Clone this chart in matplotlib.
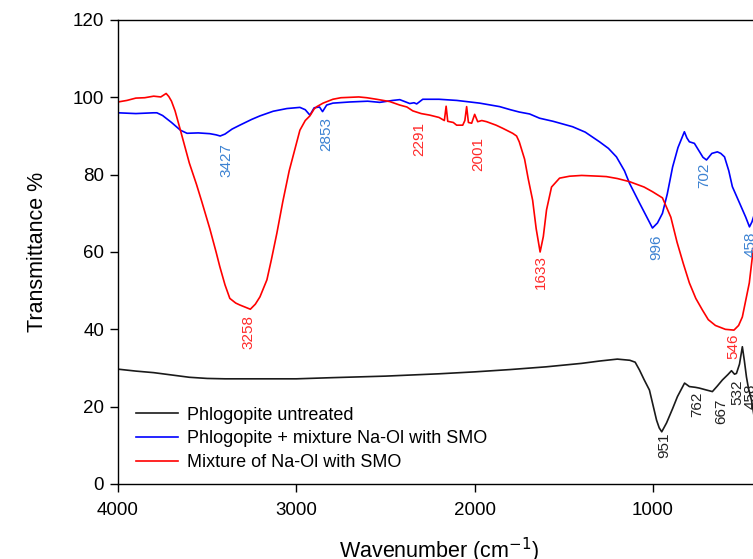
import matplotlib
matplotlib.use("Agg")
import matplotlib.pyplot as plt

plt.rcParams['font.family'] = ['Liberation Sans', 'DejaVu Sans']

# ---------------- data ----------------
black_wn = [4000, 3900, 3800, 3700, 3600, 3500, 3400, 3200, 3000, 2800, 2500, 2200, 2000,
            1800, 1600, 1400, 1300, 1200, 1130, 1100, 1076, 1050, 1020, 980, 965, 951, 924,
            890, 863, 823, 796, 762, 740, 700, 667, 640, 611, 580, 560, 543, 532, 515, 499,
            488, 476, 465, 448, 435, 420]
black_t = [29.7, 29.2, 28.8, 28.2, 27.6, 27.3, 27.2, 27.2, 27.2, 27.5, 27.9, 28.5, 29.0,
           29.6, 30.3, 31.2, 31.8, 32.3, 32.0, 31.5, 29.5, 27.0, 24.3, 16.5, 14.5, 13.5, 15.8,
           19.5, 22.6, 26.1, 25.2, 25.0, 24.8, 24.3, 23.9, 25.3, 26.9, 28.3, 29.3, 28.4, 28.6,
           31.0, 35.5, 32.0, 27.7, 24.8, 21.7, 18.0, 14.0]

blue_wn = [4000, 3900, 3800, 3782, 3750, 3700, 3650, 3613, 3550, 3485, 3450, 3427, 3400,
           3360, 3317, 3250, 3204, 3130, 3053, 2980, 2950, 2924, 2900, 2870, 2853, 2830,
           2795, 2700, 2600, 2532, 2460, 2420, 2364, 2340, 2325, 2291, 2200, 2100, 2045,
           1972, 1860, 1800, 1750, 1692, 1636, 1560, 1451, 1380, 1300, 1250, 1205, 1160,
           1132, 1076, 1040, 1003, 975, 947, 920, 890, 860, 824, 810, 796, 768, 740, 720,
           700, 670, 639, 620, 599, 575, 555, 515, 480, 459, 445, 430]
blue_t = [96.0, 95.8, 96.0, 96.0, 95.3, 93.5, 91.5, 90.7, 90.8, 90.6, 90.3, 90.0, 90.5,
          91.8, 92.8, 94.3, 95.2, 96.4, 97.1, 97.4, 96.8, 95.4, 97.3, 97.5, 96.3, 98.0,
          98.5, 98.8, 99.0, 98.7, 99.2, 99.4, 98.4, 98.6, 98.3, 99.5, 99.5, 99.2, 98.9,
          98.5, 97.6, 96.8, 96.2, 95.7, 94.6, 93.8, 92.4, 91.0, 88.5, 86.8, 84.6, 81.0,
          77.8, 72.7, 69.5, 66.2, 67.5, 70.0, 75.0, 82.0, 87.0, 91.1, 89.5, 88.5, 88.1,
          86.0, 84.5, 83.8, 85.5, 85.9, 85.5, 84.6, 81.0, 76.9, 72.7, 69.0, 66.5, 67.8, 70.0]

red_wn = [4000, 3950, 3900, 3850, 3800, 3760, 3730, 3715, 3700, 3680, 3650, 3600, 3560,
          3530, 3485, 3450, 3429, 3400, 3373, 3340, 3317, 3290, 3258, 3230, 3204, 3165,
          3140, 3109, 3076, 3040, 3000, 2980, 2950, 2924, 2900, 2885, 2850, 2795, 2750,
          2700, 2650, 2605, 2550, 2476, 2420, 2380, 2347, 2300, 2252, 2200, 2170, 2160,
          2151, 2120, 2101, 2067, 2055, 2045, 2035, 2017, 2000, 1983, 1960, 1933, 1880,
          1843, 1787, 1765, 1750, 1720, 1700, 1675, 1655, 1633, 1615, 1597, 1569, 1524,
          1468, 1400, 1300, 1261, 1200, 1132, 1050, 1003, 947, 900, 865, 830, 796, 760,
          723, 690, 650, 594, 546, 520, 499, 460, 443, 430]
red_t = [98.8, 99.2, 99.8, 99.9, 100.3, 100.1, 101.0, 100.2, 99.0, 96.5, 91.5, 83.0, 77.5,
         73.0, 66.0, 60.0, 56.2, 51.5, 48.0, 46.8, 46.3, 45.8, 45.2, 46.5, 48.4, 52.8,
         58.0, 64.9, 73.0, 81.0, 88.0, 91.5, 94.0, 95.2, 97.0, 97.6, 98.5, 99.5, 99.9,
         100.0, 100.1, 99.9, 99.5, 98.9, 98.0, 97.5, 96.5, 95.8, 95.4, 94.8, 94.0, 97.7,
         93.8, 93.5, 92.8, 92.8, 94.0, 97.6, 93.5, 93.3, 95.6, 93.7, 94.0, 93.7, 92.8,
         92.0, 90.7, 90.0, 88.5, 84.0, 79.0, 73.4, 66.0, 60.0, 64.0, 70.9, 76.8, 79.1,
         79.6, 79.8, 79.6, 79.5, 79.0, 78.2, 76.8, 75.6, 74.0, 69.0, 62.5, 57.0, 52.0, 48.0,
         45.0, 42.5, 41.0, 40.0, 39.8, 41.0, 43.2, 52.0, 58.7, 63.0]

series_names = ["Phlogopite untreated", "Phlogopite + mixture Na-Ol with SMO",
                "Mixture of Na-Ol with SMO"]

# peak labels: text, x (wavenumber), top y (transmittance)
blue_peaks = ["3427", "2853", "996", "702", "458"]
blue_peak_x = [3391, 2831, 982, 711, 454]
blue_peak_y = [88.2, 94.9, 64.4, 83.0, 65.2]
red_peaks = ["3258", "2291", "2001", "1633", "546"]
red_peak_x = [3267, 2308, 1981, 1627, 552]
red_peak_y = [43.7, 93.6, 89.8, 59.2, 39.0]
black_peaks = ["951", "762", "667", "532", "458"]
black_peak_x = [936, 751, 616, 527, 452]
black_peak_y = [13.2, 23.9, 22.2, 26.9, 26.1]

x_ticks = [4000, 3000, 2000, 1000]
y_ticks = [0, 20, 40, 60, 80, 100, 120]

# ---------------- figure ----------------
W, H = 753, 559
fig = plt.figure(figsize=(W / 100, H / 100), dpi=100)
ax = fig.add_axes([118 / W, 75 / H, 642 / W, 464 / H])

ax.plot(black_wn, black_t, color="#1a1a1a", lw=1.2, label=series_names[0])
ax.plot(blue_wn, blue_t, color="#0000ff", lw=1.2, label=series_names[1])
ax.plot(red_wn, red_t, color="#ff0000", lw=1.2, label=series_names[2])

ax.set_xlim(4000, 400)
ax.set_ylim(0, 120)
ax.set_xticks(x_ticks)
ax.set_yticks(y_ticks)
ax.tick_params(axis='both', direction='out', length=6, width=1, labelsize=13.5)
ax.tick_params(axis='y', pad=4)
ax.tick_params(axis='x', pad=7)
ax.spines['right'].set_visible(False)
for s in ['left', 'bottom', 'top']:
    ax.spines[s].set_linewidth(1.0)

ax.set_ylabel("Transmittance %", fontsize=15.5, labelpad=18)
ax.set_xlabel("Wavenumber (cm$^{-1}$)", fontsize=15.5, labelpad=12)

def put_labels(names, xs, ys, color):
    for t, xx, yy in zip(names, xs, ys):
        ax.text(xx, yy, t, rotation=90, ha='center', va='top', fontsize=11,
                color=color, clip_on=False)

put_labels(blue_peaks, blue_peak_x, blue_peak_y, "#3c82d2")
put_labels(red_peaks, red_peak_x, red_peak_y, "#ff2a2a")
put_labels(black_peaks, black_peak_x, black_peak_y, "#222222")

leg = ax.legend(loc='lower left', bbox_to_anchor=(0.028, 0.028), frameon=False,
                fontsize=13, handlelength=2.3, handletextpad=0.55, labelspacing=0.37,
                borderpad=0, borderaxespad=0)

fig.savefig("out.png", dpi=100)
